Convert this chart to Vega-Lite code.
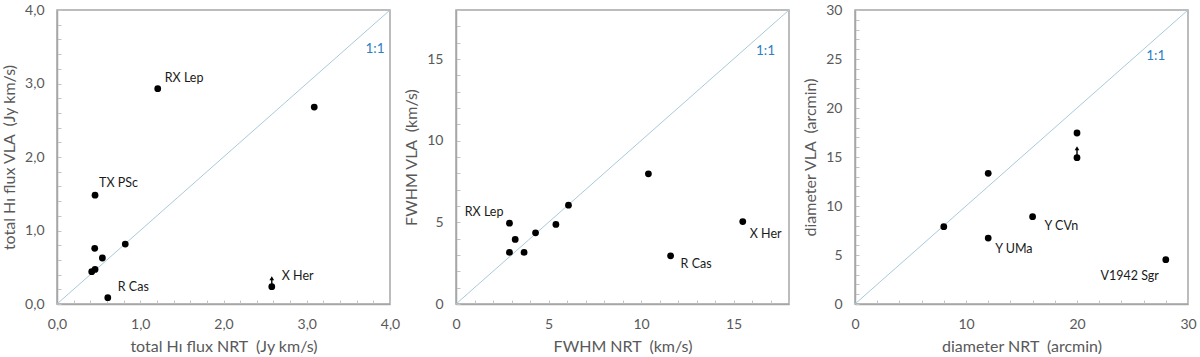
{
  "$schema": "https://vega.github.io/schema/vega-lite/v6.json",
  "background": "white",
  "padding": {"left": 0, "top": 2, "right": 4, "bottom": 2},
  "bounds": "flush",
  "spacing": 66,
  "config": {
    "view": {"stroke": "#a6a6a6", "strokeWidth": 1.5},
    "axis": {
      "grid": false,
      "domainColor": "#a6a6a6",
      "domainWidth": 1.5,
      "tickSize": -4,
      "tickColor": "#c4c4c4",
      "tickWidth": 1,
      "labelPadding": 17,
      "labelOverlap": false,
      "labelFlush": false,
      "labelFont": "Lato",
      "labelFontSize": 14,
      "labelColor": "#595959",
      "titleFont": "Lato",
      "titleFontSize": 16,
      "titleFontWeight": "normal",
      "titleColor": "#595959",
      "titlePadding": 7
    },
    "text": {"font": "Lato", "fontSize": 12.5, "color": "#1a1a1a", "baseline": "middle"}
  },
  "datasets": {
    "flux": [
      {"star": "RX Lep", "nrt": 1.21, "vla": 2.93},
      {"star": "", "nrt": 3.09, "vla": 2.68},
      {"star": "TX PSc", "nrt": 0.457, "vla": 1.48},
      {"star": "", "nrt": 0.453, "vla": 0.757},
      {"star": "", "nrt": 0.82, "vla": 0.816},
      {"star": "", "nrt": 0.545, "vla": 0.626},
      {"star": "", "nrt": 0.457, "vla": 0.47},
      {"star": "", "nrt": 0.417, "vla": 0.44},
      {"star": "R Cas", "nrt": 0.61, "vla": 0.086},
      {"star": "X Her", "nrt": 2.58, "vla": 0.236}
    ],
    "flux_limit": [{"nrt": 2.58, "vla": 0.236, "tip": 0.35}],
    "flux_one": [{"nrt": 0, "vla": 0}, {"nrt": 4, "vla": 4, "text": "1:1", "lx": 3.82, "ly": 3.47}],
    "fwhm": [
      {"star": "RX Lep", "nrt": 2.89, "vla": 4.95},
      {"star": "", "nrt": 10.4, "vla": 7.97},
      {"star": "", "nrt": 6.08, "vla": 6.05},
      {"star": "", "nrt": 5.4, "vla": 4.87},
      {"star": "", "nrt": 4.3, "vla": 4.36},
      {"star": "", "nrt": 3.2, "vla": 3.95},
      {"star": "", "nrt": 2.89, "vla": 3.16},
      {"star": "", "nrt": 3.68, "vla": 3.16},
      {"star": "R Cas", "nrt": 11.6, "vla": 2.95},
      {"star": "X Her", "nrt": 15.5, "vla": 5.05}
    ],
    "fwhm_one": [{"nrt": 0, "vla": 0}, {"nrt": 18, "vla": 18, "text": "1:1", "lx": 16.73, "ly": 15.5}],
    "diam": [
      {"star": "", "nrt": 20, "vla": 17.45},
      {"star": "", "nrt": 20, "vla": 14.93},
      {"star": "", "nrt": 12, "vla": 13.33},
      {"star": "", "nrt": 8, "vla": 7.89},
      {"star": "Y CVn", "nrt": 16, "vla": 8.91},
      {"star": "Y UMa", "nrt": 12, "vla": 6.73},
      {"star": "V1942 Sgr", "nrt": 28, "vla": 4.52}
    ],
    "diam_limit": [{"nrt": 20, "vla": 14.93, "tip": 15.9}],
    "diam_one": [{"nrt": 0, "vla": 0}, {"nrt": 30, "vla": 30, "text": "1:1", "lx": 27.1, "ly": 25.3}]
  },
  "hconcat": [
    {
      "width": 333,
      "height": 294,
      "encoding": {
        "x": {
          "field": "nrt", "type": "quantitative",
          "scale": {"domain": [0, 4], "nice": false},
          "axis": {
            "title": "total Hɪ flux NRT\u00a0 (Jy km/s)",
            "values": [0, 0.2, 0.4, 0.6, 0.8, 1, 1.2, 1.4, 1.6, 1.8, 2, 2.2, 2.4, 2.6, 2.8, 3, 3.2, 3.4, 3.6, 3.8, 4],
            "labelExpr": "datum.value % 1 === 0 ? replace(format(datum.value, '.1f'), '.', ',') : ''"
          }
        },
        "y": {
          "field": "vla", "type": "quantitative",
          "scale": {"domain": [0, 4], "nice": false},
          "axis": {
            "title": "total Hɪ flux VLA\u00a0 (Jy km/s)",
            "values": [0, 0.2, 0.4, 0.6, 0.8, 1, 1.2, 1.4, 1.6, 1.8, 2, 2.2, 2.4, 2.6, 2.8, 3, 3.2, 3.4, 3.6, 3.8, 4],
            "labelExpr": "datum.value % 1 === 0 ? replace(format(datum.value, '.1f'), '.', ',') : ''"
          }
        }
      },
      "layer": [
        {"data": {"name": "flux_one"}, "mark": {"type": "line", "color": "#a8cadb", "strokeWidth": 1}, "encoding": {}},
        {"data": {"name": "flux_one"}, "transform": [{"filter": "datum.text"}], "mark": {"type": "text", "color": "#2e7fc4", "fontSize": 13.5, "align": "center"},
         "encoding": {"x": {"field": "lx", "type": "quantitative"}, "y": {"field": "ly", "type": "quantitative"}, "text": {"field": "text"}}},
        {"data": {"name": "flux_limit"}, "mark": {"type": "rule", "color": "black", "strokeWidth": 1.4}, "encoding": {"y2": {"field": "tip"}}},
        {"data": {"name": "flux_limit"}, "mark": {"type": "point", "shape": "triangle-up", "filled": true, "color": "black", "opacity": 1, "size": 22},
         "encoding": {"y": {"field": "tip", "type": "quantitative"}}},
        {"data": {"name": "flux"}, "mark": {"type": "circle", "color": "black", "opacity": 1, "size": 46}},
        {"data": {"name": "flux"}, "transform": [{"filter": "datum.star === 'RX Lep'"}], "mark": {"type": "text", "align": "left", "dx": 7, "dy": -11}, "encoding": {"text": {"field": "star"}}},
        {"data": {"name": "flux"}, "transform": [{"filter": "datum.star === 'TX PSc'"}], "mark": {"type": "text", "align": "left", "dx": 4, "dy": -12}, "encoding": {"text": {"field": "star"}}},
        {"data": {"name": "flux"}, "transform": [{"filter": "datum.star === 'R Cas' || datum.star === 'X Her'"}], "mark": {"type": "text", "align": "left", "dx": 10, "dy": -10.5}, "encoding": {"text": {"field": "star"}}}
      ]
    },
    {
      "width": 333,
      "height": 294,
      "encoding": {
        "x": {
          "field": "nrt", "type": "quantitative",
          "scale": {"domain": [0, 18], "nice": false},
          "axis": {
            "title": "FWHM NRT\u00a0 (km/s)",
            "values": [0, 1, 2, 3, 4, 5, 6, 7, 8, 9, 10, 11, 12, 13, 14, 15, 16, 17, 18],
            "labelExpr": "datum.value % 5 === 0 ? format(datum.value, 'd') : ''"
          }
        },
        "y": {
          "field": "vla", "type": "quantitative",
          "scale": {"domain": [0, 18], "nice": false},
          "axis": {
            "title": "FWHM VLA\u00a0 (km/s)",
            "values": [0, 1, 2, 3, 4, 5, 6, 7, 8, 9, 10, 11, 12, 13, 14, 15, 16, 17, 18],
            "labelExpr": "datum.value % 5 === 0 ? format(datum.value, 'd') : ''"
          }
        }
      },
      "layer": [
        {"data": {"name": "fwhm_one"}, "mark": {"type": "line", "color": "#a8cadb", "strokeWidth": 1}, "encoding": {}},
        {"data": {"name": "fwhm_one"}, "transform": [{"filter": "datum.text"}], "mark": {"type": "text", "color": "#2e7fc4", "fontSize": 13.5, "align": "center"},
         "encoding": {"x": {"field": "lx", "type": "quantitative"}, "y": {"field": "ly", "type": "quantitative"}, "text": {"field": "text"}}},
        {"data": {"name": "fwhm"}, "mark": {"type": "circle", "color": "black", "opacity": 1, "size": 46}},
        {"data": {"name": "fwhm"}, "transform": [{"filter": "datum.star === 'RX Lep'"}], "mark": {"type": "text", "align": "right", "dx": -6, "dy": -11}, "encoding": {"text": {"field": "star"}}},
        {"data": {"name": "fwhm"}, "transform": [{"filter": "datum.star === 'R Cas'"}], "mark": {"type": "text", "align": "left", "dx": 10, "dy": 8}, "encoding": {"text": {"field": "star"}}},
        {"data": {"name": "fwhm"}, "transform": [{"filter": "datum.star === 'X Her'"}], "mark": {"type": "text", "align": "left", "dx": 7, "dy": 12}, "encoding": {"text": {"field": "star"}}}
      ]
    },
    {
      "width": 333,
      "height": 294,
      "encoding": {
        "x": {
          "field": "nrt", "type": "quantitative",
          "scale": {"domain": [0, 30], "nice": false},
          "axis": {
            "title": "diameter NRT\u00a0 (arcmin)",
            "values": [0, 2, 4, 6, 8, 10, 12, 14, 16, 18, 20, 22, 24, 26, 28, 30],
            "labelExpr": "datum.value % 10 === 0 ? format(datum.value, 'd') : ''"
          }
        },
        "y": {
          "field": "vla", "type": "quantitative",
          "scale": {"domain": [0, 30], "nice": false},
          "axis": {
            "title": "diameter VLA\u00a0 (arcmin)",
            "values": [0, 1, 2, 3, 4, 5, 6, 7, 8, 9, 10, 11, 12, 13, 14, 15, 16, 17, 18, 19, 20, 21, 22, 23, 24, 25, 26, 27, 28, 29, 30],
            "labelExpr": "datum.value % 5 === 0 ? format(datum.value, 'd') : ''"
          }
        }
      },
      "layer": [
        {"data": {"name": "diam_one"}, "mark": {"type": "line", "color": "#a8cadb", "strokeWidth": 1}, "encoding": {}},
        {"data": {"name": "diam_one"}, "transform": [{"filter": "datum.text"}], "mark": {"type": "text", "color": "#2e7fc4", "fontSize": 13.5, "align": "center"},
         "encoding": {"x": {"field": "lx", "type": "quantitative"}, "y": {"field": "ly", "type": "quantitative"}, "text": {"field": "text"}}},
        {"data": {"name": "diam_limit"}, "mark": {"type": "rule", "color": "black", "strokeWidth": 1.4}, "encoding": {"y2": {"field": "tip"}}},
        {"data": {"name": "diam_limit"}, "mark": {"type": "point", "shape": "triangle-up", "filled": true, "color": "black", "opacity": 1, "size": 22},
         "encoding": {"y": {"field": "tip", "type": "quantitative"}}},
        {"data": {"name": "diam"}, "mark": {"type": "circle", "color": "black", "opacity": 1, "size": 46}},
        {"data": {"name": "diam"}, "transform": [{"filter": "datum.star === 'Y CVn'"}], "mark": {"type": "text", "align": "left", "dx": 12, "dy": 9}, "encoding": {"text": {"field": "star"}}},
        {"data": {"name": "diam"}, "transform": [{"filter": "datum.star === 'Y UMa'"}], "mark": {"type": "text", "align": "left", "dx": 7, "dy": 11}, "encoding": {"text": {"field": "star"}}},
        {"data": {"name": "diam"}, "transform": [{"filter": "datum.star === 'V1942 Sgr'"}], "mark": {"type": "text", "align": "right", "dx": -7, "dy": 16}, "encoding": {"text": {"field": "star"}}}
      ]
    }
  ]
}
